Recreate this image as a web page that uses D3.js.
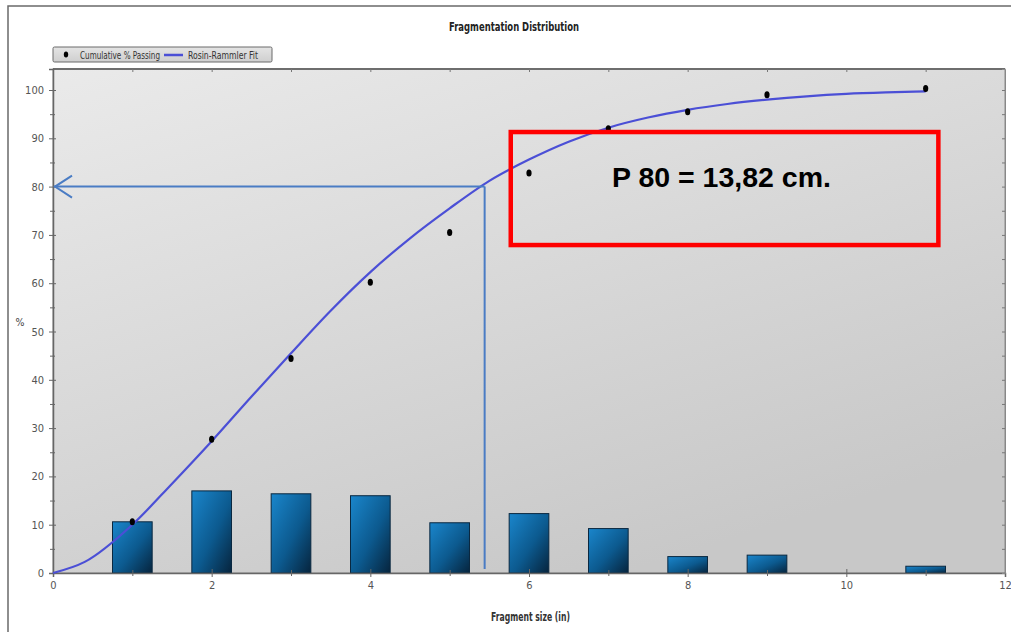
<!DOCTYPE html>
<html>
<head>
<meta charset="utf-8">
<script src="https://cdn.jsdelivr.net/npm/d3@7"></script>
<style>
  html, body { margin: 0; padding: 0; background: #ffffff; }
  svg { display: block; }
</style>
</head>
<body>
<svg id="chart" width="1011" height="632"></svg>
<script>
// Fragment size classes (in) and retained % per class (bars)
const barSizes = [1, 2, 3, 4, 5, 6, 7, 8, 9, 11];
const barRetained = [10.6, 17.0, 16.4, 16.0, 10.4, 12.3, 9.2, 3.4, 3.7, 1.4];

// Cumulative % passing (dots)
const passSizes = [1, 2, 3, 4, 5, 6, 7, 8, 9, 11];
const passValues = [10.6, 27.7, 44.4, 60.2, 70.5, 82.8, 92.0, 95.5, 99.0, 100.3];

// Rosin-Rammler fit curve (line)
const fitSizes = [0, 0.4, 1, 1.5, 2, 2.5, 3, 3.5, 4, 4.5, 5, 5.5, 6, 6.5, 7, 7.5, 8, 8.5, 9, 9.5, 10, 10.5, 11];
const fitValues = [0, 2.3, 10.0, 18.5, 27.3, 36.5, 45.5, 54.3, 62.3, 69.3, 75.5, 81.2, 85.6, 89.3, 92.2, 94.3, 95.9, 97.1, 98.0, 98.7, 99.2, 99.5, 99.7];

// P80 annotation
const p80Percent = 80;
const p80Cm = 13.82;
const p80Label = "P 80 = 13,82 cm.";

const xTicks = [0, 2, 4, 6, 8, 10, 12];
const yTicks = [0, 10, 20, 30, 40, 50, 60, 70, 80, 90, 100];

const svg = d3.select("#chart");
const narrow = "'DejaVu Sans Condensed', 'Liberation Sans Narrow', 'Liberation Sans', Arial, sans-serif";

const x = d3.scaleLinear().domain([0, 12]).range([53, 1005]);
const y = d3.scaleLinear().domain([0, 104.35]).range([573, 69]);

const defs = svg.append("defs");
const bg = defs.append("linearGradient").attr("id", "plotBg")
  .attr("x1", 0).attr("y1", 0).attr("x2", 0.6).attr("y2", 1);
bg.append("stop").attr("offset", "0%").attr("stop-color", "#eaeaea");
bg.append("stop").attr("offset", "100%").attr("stop-color", "#c8c8c8");

const barGrad = defs.append("linearGradient").attr("id", "barFill")
  .attr("x1", 0).attr("y1", 0).attr("x2", 1).attr("y2", 1);
barGrad.append("stop").attr("offset", "0%").attr("stop-color", "#1a86cc");
barGrad.append("stop").attr("offset", "55%").attr("stop-color", "#0c5a8f");
barGrad.append("stop").attr("offset", "100%").attr("stop-color", "#06243d");

const legGrad = defs.append("linearGradient").attr("id", "legBg")
  .attr("x1", 0).attr("y1", 0).attr("x2", 0).attr("y2", 1);
legGrad.append("stop").attr("offset", "0%").attr("stop-color", "#e4e4e4");
legGrad.append("stop").attr("offset", "100%").attr("stop-color", "#cfcfcf");

// outer frame
svg.append("rect").attr("x", 8).attr("y", 6).attr("width", 1040).attr("height", 660)
  .attr("fill", "none").attr("stroke", "#6a6a6a").attr("stroke-width", 1.5);

// plot area
svg.append("rect")
  .attr("x", x(0)).attr("y", y(104.35))
  .attr("width", x(12) - x(0)).attr("height", y(0) - y(104.35))
  .attr("fill", "url(#plotBg)")
  .attr("stroke", "#8a8a8a").attr("stroke-width", 1);
svg.append("line").attr("x1", x(0)).attr("x2", x(12)).attr("y1", y(104.35)).attr("y2", y(104.35))
  .attr("stroke", "#6e6e6e").attr("stroke-width", 2);

// title
svg.append("text").attr("x", 449).attr("y", 31)
  .attr("font-family", narrow).attr("font-weight", "bold").attr("font-size", 12.5)
  .attr("textLength", 130).attr("lengthAdjust", "spacingAndGlyphs")
  .attr("fill", "#222").text("Fragmentation Distribution");

// legend
const leg = svg.append("g");
leg.append("rect").attr("x", 53).attr("y", 47).attr("width", 219).attr("height", 15).attr("rx", 1.5)
  .attr("fill", "url(#legBg)").attr("stroke", "#6a6a6a").attr("stroke-width", 1);
leg.append("ellipse").attr("cx", 66).attr("cy", 54.5).attr("rx", 2.2).attr("ry", 3).attr("fill", "#000");
leg.append("text").attr("x", 80).attr("y", 58.5).attr("font-family", narrow).attr("font-size", 10)
  .attr("textLength", 80).attr("lengthAdjust", "spacingAndGlyphs")
  .attr("fill", "#333").text("Cumulative % Passing");
leg.append("line").attr("x1", 164).attr("x2", 183).attr("y1", 55).attr("y2", 55)
  .attr("stroke", "#4b4fd6").attr("stroke-width", 2.5);
leg.append("text").attr("x", 188).attr("y", 58.5).attr("font-family", narrow).attr("font-size", 10)
  .attr("textLength", 70).attr("lengthAdjust", "spacingAndGlyphs")
  .attr("fill", "#333").text("Rosin-Rammler Fit");

// bars
const barW = (x(1) - x(0)) * 0.5;
svg.append("g").selectAll("rect").data(barSizes).join("rect")
  .attr("x", (d) => x(d) - barW / 2)
  .attr("y", (d, i) => y(barRetained[i]))
  .attr("width", barW)
  .attr("height", (d, i) => y(0) - y(barRetained[i]))
  .attr("fill", "url(#barFill)")
  .attr("stroke", "#0a2840").attr("stroke-width", 1);

// bottom axis
const xAxisMajor = d3.axisBottom(x).tickValues(xTicks).tickSize(4).tickFormat(d3.format("d"));
const gx = svg.append("g").attr("transform", `translate(0,${y(0)})`).call(xAxisMajor);
gx.select(".domain").attr("stroke", "#666").attr("stroke-width", 1.5);
gx.selectAll(".tick line").attr("stroke", "#666").attr("y1", -4);
gx.selectAll(".tick text").attr("font-family", narrow).attr("font-size", 11)
  .attr("fill", "#555").attr("dy", "0.9em").attr("y", 6);
const gxMinor = svg.append("g").attr("transform", `translate(0,${y(0)})`)
  .call(d3.axisBottom(x).tickValues(d3.range(1, 12, 2)).tickSize(3).tickFormat(""));
gxMinor.select(".domain").remove();
gxMinor.selectAll(".tick line").attr("stroke", "#666").attr("y1", -3);

// top axis ticks
const gTop = svg.append("g").attr("transform", `translate(0,${y(104.35)})`)
  .call(d3.axisBottom(x).tickValues(d3.range(1, 12, 1)).tickSize(3).tickFormat(""));
gTop.select(".domain").remove();
gTop.selectAll(".tick line").attr("stroke", "#777");

// left axis
const gy = svg.append("g").attr("transform", `translate(${x(0)},0)`)
  .call(d3.axisLeft(y).tickValues(yTicks).tickSize(4).tickFormat(d3.format("d")));
gy.select(".domain").attr("stroke", "#666").attr("stroke-width", 1.5);
gy.selectAll(".tick line").attr("stroke", "#666").attr("x1", 3);
gy.selectAll(".tick text").attr("font-family", narrow).attr("font-size", 11)
  .attr("fill", "#555").attr("x", -9);
const gyMinor = svg.append("g").attr("transform", `translate(${x(0)},0)`)
  .call(d3.axisLeft(y).tickValues(d3.range(5, 101, 10)).tickSize(3).tickFormat(""));
gyMinor.select(".domain").remove();
gyMinor.selectAll(".tick line").attr("stroke", "#666").attr("x1", 2);

// right axis ticks
const gRight = svg.append("g").attr("transform", `translate(${x(12)},0)`)
  .call(d3.axisLeft(y).tickValues(d3.range(5, 101, 5)).tickSize(3).tickFormat(""));
gRight.select(".domain").attr("stroke", "#888");
gRight.selectAll(".tick line").attr("stroke", "#777");

// axis titles
svg.append("text").attr("x", 20).attr("y", 326).attr("text-anchor", "middle")
  .attr("font-family", narrow).attr("font-size", 10.5).attr("fill", "#444").text("%");
svg.append("text").attr("x", 491).attr("y", 621)
  .attr("font-family", narrow).attr("font-weight", "bold").attr("font-size", 11.5)
  .attr("textLength", 79).attr("lengthAdjust", "spacingAndGlyphs")
  .attr("fill", "#333").text("Fragment size (in)");

// Rosin-Rammler fit line
const fitLine = d3.line().x((d) => x(d[0])).y((d) => y(d[1])).curve(d3.curveMonotoneX);
svg.append("path").datum(d3.zip(fitSizes, fitValues))
  .attr("d", fitLine).attr("fill", "none")
  .attr("stroke", "#4b4fd6").attr("stroke-width", 2.2).attr("stroke-linejoin", "round");

// cumulative passing dots
svg.append("g").selectAll("ellipse").data(passSizes).join("ellipse")
  .attr("cx", (d) => x(d)).attr("cy", (d, i) => y(passValues[i]))
  .attr("rx", 2.6).attr("ry", 3.5).attr("fill", "#000");

// P80 guide lines
const p80In = p80Cm / 2.54;
const guideColor = "#4a7cc4";
svg.append("line").attr("x1", x(p80In)).attr("x2", x(0) + 1).attr("y1", y(p80Percent)).attr("y2", y(p80Percent))
  .attr("stroke", guideColor).attr("stroke-width", 2);
svg.append("line").attr("x1", x(p80In)).attr("x2", x(p80In)).attr("y1", y(p80Percent)).attr("y2", y(0) - 4)
  .attr("stroke", guideColor).attr("stroke-width", 2);
svg.append("path")
  .attr("d", `M${x(0) + 19},${y(p80Percent) - 11} L${x(0) + 2},${y(p80Percent)} L${x(0) + 19},${y(p80Percent) + 11}`)
  .attr("fill", "none").attr("stroke", guideColor).attr("stroke-width", 2);

// P80 callout box
svg.append("rect")
  .attr("x", x(5.77)).attr("y", y(91.3))
  .attr("width", x(11.16) - x(5.77)).attr("height", y(67.9) - y(91.3))
  .attr("fill", "none").attr("stroke", "#ff0000").attr("stroke-width", 4.5);
svg.append("text").attr("x", 612).attr("y", 187)
  .attr("font-family", "'Liberation Sans', Arial, sans-serif").attr("font-weight", "bold")
  .attr("font-size", 28.5).attr("fill", "#000").text(p80Label);
</script>
</body>
</html>
